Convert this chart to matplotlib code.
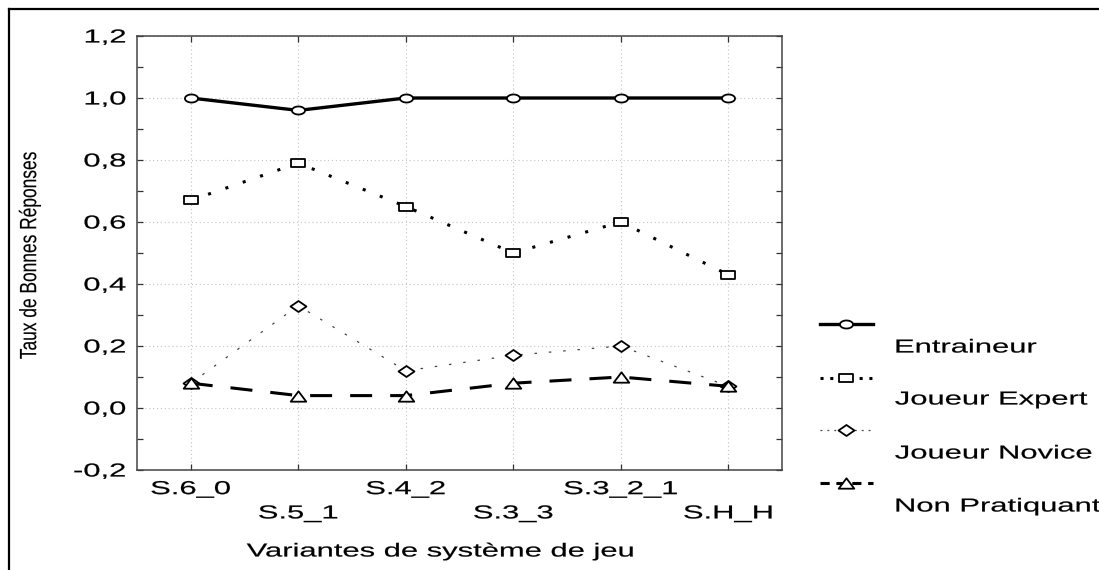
import matplotlib
matplotlib.use("Agg")
import numpy as np
import matplotlib.pyplot as plt
from matplotlib.path import Path
from matplotlib.patheffects import AbstractPathEffect
from matplotlib.transforms import Affine2D
from matplotlib.lines import Line2D
from matplotlib.ticker import MultipleLocator, FixedLocator

# ---------------- data ----------------
categories = ["S.6_0", "S.5_1", "S.4_2", "S.3_3", "S.3_2_1", "S.H_H"]
entraineur = [1.00, 0.96, 1.00, 1.00, 1.00, 1.00]
joueur_expert = [0.67, 0.79, 0.65, 0.50, 0.60, 0.43]
joueur_novice = [0.08, 0.33, 0.12, 0.17, 0.20, 0.07]
non_pratiquant = [0.08, 0.04, 0.04, 0.08, 0.10, 0.07]
series_names = ["Entraineur", "Joueur Expert", "Joueur Novice", "Non Pratiquant"]
y_ticks = [-0.2, 0.0, 0.2, 0.4, 0.6, 0.8, 1.0, 1.2]
x_label = "Variantes de système de jeu"
y_label = "Taux de Bonnes Réponses"

plt.rcParams["font.family"] = ["Liberation Sans", "DejaVu Sans"]

W, H = 1099, 570


class StretchX(AbstractPathEffect):
    """Draw text stretched horizontally (the reference is x-stretched)."""

    def __init__(self, sx, anchor="center", stroke=0.15):
        super().__init__()
        self.sx = sx
        self.anchor = anchor
        self.stroke = stroke

    def draw_path(self, renderer, gc, tpath, affine, rgbFace=None):
        ext = tpath.get_extents(affine)
        if self.anchor == "right":
            x0 = ext.x1
        elif self.anchor == "left":
            x0 = ext.x0
        else:
            x0 = 0.5 * (ext.x0 + ext.x1)
        new = affine + Affine2D().translate(-x0, 0).scale(self.sx, 1.0).translate(x0, 0)
        gc0 = renderer.new_gc()
        gc0.copy_properties(gc)
        if rgbFace is not None:
            gc0.set_foreground(rgbFace)
        gc0.set_linewidth(self.stroke)
        gc0.set_joinstyle("round")
        renderer.draw_path(gc0, tpath, new, rgbFace)
        gc0.restore()


def marker_path(verts, sx):
    v = np.array(verts, dtype=float)
    v[:, 0] *= sx
    return Path(v, closed=True)


t = np.linspace(0, 2 * np.pi, 49)
m_circle = marker_path(np.c_[np.cos(t), np.sin(t)], 13 / 8)
m_square = marker_path([(-1, -1), (1, -1), (1, 1), (-1, 1), (-1, -1)], 14 / 9)
m_diamond = marker_path([(0, -1), (1, 0), (0, 1), (-1, 0), (0, -1)], 16 / 11)
m_tri = marker_path([(-1, -0.667), (1, -0.667), (0, 0.667), (-1, -0.667)], 1.0)

styles = [
    dict(ls="-", lw=2.4, marker=m_circle, ms=9.4),
    dict(ls=(0, (1, 5)), lw=2.2, marker=m_square, ms=10.0),
    dict(ls=(0, (2, 9.5)), lw=0.9, marker=m_diamond, ms=11.5, color="#444444"),
    dict(ls=(0, (7.2, 5.9)), lw=2.2, marker=m_tri, ms=11.2),
]
legend_ls = ["-", (0, (1, 2.2)), (0, (1.5, 4)), (0, (3, 2.2))]

fig = plt.figure(figsize=(W / 100, H / 100), dpi=100)
ax = fig.add_axes([137 / W, 1 - 470 / H, 645 / W, 434 / H])

x = np.arange(1, len(categories) + 1)
all_series = [entraineur, joueur_expert, joueur_novice, non_pratiquant]
for vals, st in zip(all_series, styles):
    st = dict(st)
    color = st.pop("color", "black")
    ax.plot(x, vals, color=color, mfc="white", mec="black", mew=1.3,
            zorder=3, solid_capstyle="butt", **st)

ax.set_xlim(0.5, 6.5)
ax.set_ylim(-0.2, 1.2)
ax.set_xticks(x)
ax.set_xticklabels(categories)
ax.yaxis.set_major_locator(FixedLocator(y_ticks))
ax.set_yticklabels([f"{v:.1f}".replace(".", ",") for v in y_ticks])
ax.yaxis.set_minor_locator(MultipleLocator(0.1))

ax.tick_params(axis="both", which="both", direction="in", length=4, width=0.9,
               color="#333333", top=True, right=True, labelsize=13.5)
ax.tick_params(axis="y", which="major", pad=8)

for sp in ax.spines.values():
    sp.set_color("#444444")
    sp.set_linewidth(1.1)

ax.grid(True, which="major", ls=(0, (1, 2.5)), color="#c4c4c4", lw=0.8)
ax.set_axisbelow(True)

# alternate tick label rows
for i, tk in enumerate(ax.xaxis.get_major_ticks()):
    tk.set_pad(8 if i % 2 == 0 else 25.5)

for lbl in ax.get_xticklabels():
    lbl.set_path_effects([StretchX(1.65, "center")])
for lbl in ax.get_yticklabels():
    lbl.set_path_effects([StretchX(1.65, "right")])

ax.set_xlabel(x_label, fontsize=13.5)
ax.xaxis.set_label_coords((440 - 137) / 645, (470 - 552) / 434)
ax.xaxis.label.set_va("center")
ax.xaxis.label.set_path_effects([StretchX(1.65, "center")])

ax.set_ylabel(y_label, fontsize=12.5)
ax.yaxis.set_label_coords((30 - 137) / 645, (470 - 255) / 434)
ax.yaxis.label.set_va("center")
ax.yaxis.label.set_path_effects([StretchX(1.35, "center", stroke=0.1)])

# legend drawn at the right, labels below each sample
handle_y = [324, 378, 430, 483]
label_y = [348, 400, 454, 507]
for name, st, lls, hy, ly in zip(series_names, styles, legend_ls, handle_y, label_y):
    yy = 1 - hy / H
    ln = Line2D([820 / W, 846 / W, 873 / W], [yy, yy, yy], transform=fig.transFigure,
                color=st.get("color", "black"), lw=st["lw"], ls=lls,
                marker=st["marker"], ms=st["ms"], mfc="white", mec="black", mew=1.3,
                markevery=[1])
    fig.add_artist(ln)
    fig.text(895 / W, 1 - ly / H, name, fontsize=13.5, ha="left", va="center",
             path_effects=[StretchX(1.65, "left")])

# outer frame
fig.add_artist(Line2D([9 / W, 9 / W], [0, 1 - 9 / H], transform=fig.transFigure,
                      color="black", lw=1.6))
fig.add_artist(Line2D([9 / W, 1], [1 - 9 / H, 1 - 9 / H], transform=fig.transFigure,
                      color="black", lw=1.6))

fig.savefig("out.png", dpi=100)
